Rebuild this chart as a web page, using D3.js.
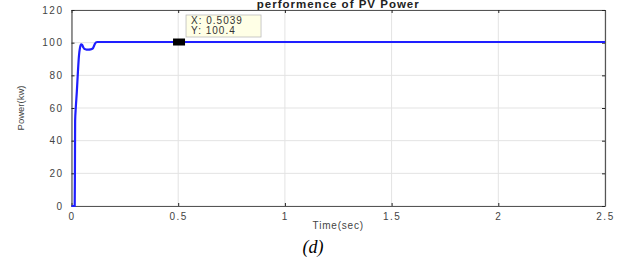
<!DOCTYPE html>
<html>
<head>
<meta charset="utf-8">
<script src="https://cdn.jsdelivr.net/npm/d3@7"></script>
<style>
  body { margin: 0; background: #fff; }
  svg { display: block; }
</style>
</head>
<body>
<svg id="chart"></svg>
<script>
// PV power response
const timeSec = [0, 0.015, 0.016, 0.017, 0.02, 0.025, 0.03, 0.035, 0.04, 0.045, 0.05, 0.055, 0.06, 0.07, 0.08, 0.09, 0.1, 0.105, 0.11, 0.115, 0.12, 0.5, 1, 1.5, 2, 2.5];
const powerKw = [0, 0, 20, 52, 60, 70, 82, 92, 97, 99, 98.6, 97.2, 96.2, 95.8, 95.8, 95.9, 96.5, 97.8, 99.3, 100.2, 100.4, 100.4, 100.4, 100.4, 100.4, 100.4];
const xTicks = [0, 0.5, 1, 1.5, 2, 2.5];
const yTicks = [0, 20, 40, 60, 80, 100, 120];
const tipPoint = { x: 0.5039, y: 100.4 };

const width = 621;
const height = 266;
const margin = { left: 71.5, right: 16, top: 10, bottom: 60 };

const svg = d3.select('#chart')
    .attr('width', width)
    .attr('height', height);

const x = d3.scaleLinear().domain([0, 2.5]).range([margin.left, width - margin.right]);
const y = d3.scaleLinear().domain([0, 120]).range([height - margin.bottom, margin.top]);

const axisColor = '#555';
const font = 'Liberation Sans, Arial, sans-serif';

// grid lines
svg.append('g')
    .selectAll('line.vx')
    .data(xTicks)
    .join('line')
    .attr('x1', d => x(d)).attr('x2', d => x(d))
    .attr('y1', y(0)).attr('y2', y(120))
    .attr('stroke', '#e3e3e3').attr('stroke-width', 1);

svg.append('g')
    .selectAll('line.hy')
    .data(yTicks)
    .join('line')
    .attr('x1', x(0)).attr('x2', x(2.5))
    .attr('y1', d => y(d)).attr('y2', d => y(d))
    .attr('stroke', '#e3e3e3').attr('stroke-width', 1);

// axes (box on, ticks inward)
function styleAxis(g) {
    g.select('.domain').attr('stroke', axisColor).attr('stroke-width', 1.2);
    g.selectAll('.tick line').attr('stroke', '#222');
    g.selectAll('.tick text')
        .attr('fill', '#444')
        .style('font-family', font)
        .style('font-size', '10px')
        .style('letter-spacing', '1.5px');
}

svg.append('g')
    .attr('transform', `translate(0,${y(0)})`)
    .call(d3.axisBottom(x).tickValues(xTicks).tickFormat(d3.format('')).tickSizeInner(-3).tickSizeOuter(0).tickPadding(7))
    .call(styleAxis);

svg.append('g')
    .attr('transform', `translate(0,${y(120)})`)
    .call(d3.axisTop(x).tickValues(xTicks).tickFormat('').tickSizeInner(-3).tickSizeOuter(0))
    .call(styleAxis);

svg.append('g')
    .attr('transform', `translate(${x(0)},0)`)
    .call(d3.axisLeft(y).tickValues(yTicks).tickSizeInner(-3).tickSizeOuter(0).tickPadding(8))
    .call(styleAxis);

svg.append('g')
    .attr('transform', `translate(${x(2.5)},0)`)
    .call(d3.axisRight(y).tickValues(yTicks).tickFormat('').tickSizeInner(-3).tickSizeOuter(0))
    .call(styleAxis);

// power curve
const line = d3.line()
    .x((d, i) => x(timeSec[i]))
    .y(d => y(d))
    .curve(d3.curveMonotoneX);

svg.append('path')
    .datum(powerKw)
    .attr('d', line)
    .attr('fill', 'none')
    .attr('stroke', '#1f1fff')
    .attr('stroke-width', 2.2);

// data tip marker
svg.append('rect')
    .attr('x', x(tipPoint.x) - 6)
    .attr('y', y(tipPoint.y) - 3.5)
    .attr('width', 12)
    .attr('height', 7)
    .attr('fill', '#000');

const tip = svg.append('g')
    .attr('transform', `translate(${x(tipPoint.x) + 7},15)`);
tip.append('rect')
    .attr('width', 75).attr('height', 22)
    .attr('fill', '#ffffe6')
    .attr('stroke', '#bbb').attr('stroke-width', 0.8);
tip.selectAll('text')
    .data([`X: ${tipPoint.x}`, `Y: ${tipPoint.y}`])
    .join('text')
    .attr('x', 5)
    .attr('y', (d, i) => 9 + i * 10)
    .attr('fill', '#333')
    .style('font-family', font)
    .style('font-size', '10px')
    .style('letter-spacing', '1px')
    .text(d => d);

// title and labels
svg.append('text')
    .attr('x', (x(0) + x(2.5)) / 2)
    .attr('y', 8)
    .attr('text-anchor', 'middle')
    .attr('fill', '#222')
    .style('font-family', font)
    .style('font-size', '11.5px')
    .style('font-weight', 'bold')
    .style('letter-spacing', '1px')
    .text('performence of PV Power');

svg.append('text')
    .attr('x', (x(0) + x(2.5)) / 2)
    .attr('y', 229)
    .attr('text-anchor', 'middle')
    .attr('fill', '#444')
    .style('font-family', font)
    .style('font-size', '10px')
    .style('letter-spacing', '0.8px')
    .text('Time(sec)');

svg.append('text')
    .attr('transform', `translate(24,${(y(0) + y(120)) / 2 + 0}) rotate(-90)`)
    .attr('text-anchor', 'middle')
    .attr('fill', '#444')
    .style('font-family', font)
    .style('font-size', '9.5px')
    .text('Power(kw)');

svg.append('text')
    .attr('x', 313)
    .attr('y', 253)
    .attr('text-anchor', 'middle')
    .attr('fill', '#000')
    .style('font-family', 'Liberation Serif, Times New Roman, serif')
    .style('font-style', 'italic')
    .style('font-size', '18px')
    .text('(d)');
</script>
</body>
</html>
